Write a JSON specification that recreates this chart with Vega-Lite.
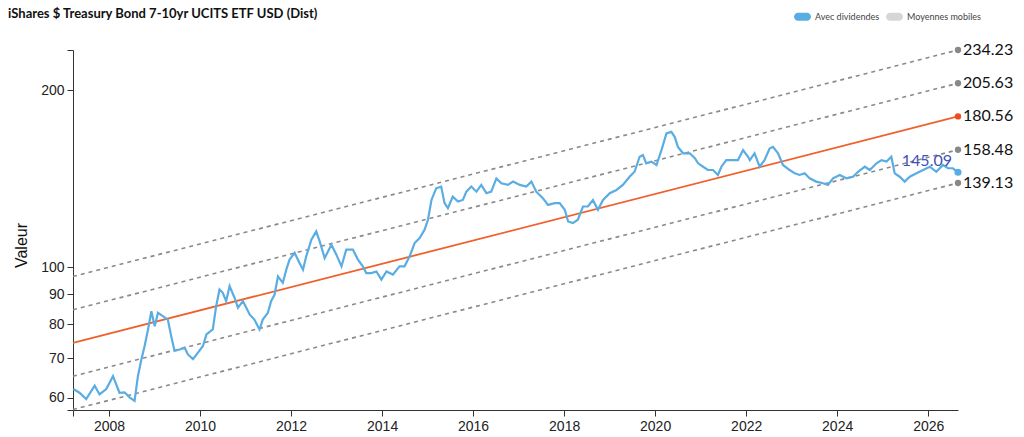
{
  "$schema": "https://vega.github.io/schema/vega-lite/v6.json",
  "width": 885,
  "height": 360,
  "autosize": "none",
  "padding": {"left": 73, "top": 50, "right": 66, "bottom": 27},
  "background": "white",
  "title": {
    "text": "iShares $ Treasury Bond 7-10yr UCITS ETF USD (Dist)",
    "anchor": "start",
    "frame": "group",
    "dx": -65,
    "offset": -13,
    "font": "Lato",
    "fontSize": 13,
    "fontWeight": "bold",
    "color": "#111"
  },
  "config": {
    "view": {"stroke": null},
    "font": "Liberation Sans",
    "axis": {"grid": false, "domainColor": "#333", "tickColor": "#333", "labelColor": "#222", "labelFontSize": 14, "tickSize": 6}
  },
  "datasets": {
    "series": [
      {"date": "2007-03-21", "value": 62.1},
      {"date": "2007-05-09", "value": 61.2},
      {"date": "2007-07-02", "value": 59.7},
      {"date": "2007-09-08", "value": 62.9},
      {"date": "2007-10-17", "value": 60.8},
      {"date": "2007-12-10", "value": 62.1},
      {"date": "2008-02-02", "value": 65.3},
      {"date": "2008-03-25", "value": 61.2},
      {"date": "2008-05-05", "value": 61.3},
      {"date": "2008-06-14", "value": 60.1},
      {"date": "2008-07-24", "value": 59.3},
      {"date": "2008-08-20", "value": 65.3},
      {"date": "2008-09-17", "value": 69.8},
      {"date": "2008-10-13", "value": 73.5},
      {"date": "2008-11-09", "value": 78.4},
      {"date": "2008-12-06", "value": 84.2},
      {"date": "2009-01-02", "value": 79.4},
      {"date": "2009-01-28", "value": 83.7},
      {"date": "2009-03-08", "value": 82.6},
      {"date": "2009-04-17", "value": 81.5},
      {"date": "2009-05-14", "value": 76.4},
      {"date": "2009-06-10", "value": 72.1},
      {"date": "2009-07-20", "value": 72.5},
      {"date": "2009-08-30", "value": 73.0},
      {"date": "2009-09-25", "value": 71.1},
      {"date": "2009-11-05", "value": 69.8},
      {"date": "2009-12-15", "value": 71.6},
      {"date": "2010-01-24", "value": 73.5},
      {"date": "2010-02-21", "value": 76.9},
      {"date": "2010-04-13", "value": 78.4},
      {"date": "2010-05-10", "value": 85.9},
      {"date": "2010-06-06", "value": 91.7},
      {"date": "2010-07-02", "value": 90.5},
      {"date": "2010-07-29", "value": 87.6},
      {"date": "2010-08-26", "value": 92.9},
      {"date": "2010-10-05", "value": 88.7},
      {"date": "2010-11-01", "value": 85.4},
      {"date": "2010-12-11", "value": 87.6},
      {"date": "2011-02-04", "value": 83.1},
      {"date": "2011-03-13", "value": 81.5},
      {"date": "2011-04-23", "value": 78.4},
      {"date": "2011-05-19", "value": 81.5},
      {"date": "2011-06-29", "value": 83.7},
      {"date": "2011-07-25", "value": 87.6},
      {"date": "2011-08-22", "value": 89.9},
      {"date": "2011-09-18", "value": 96.5},
      {"date": "2011-10-27", "value": 94.1},
      {"date": "2011-11-24", "value": 99.1},
      {"date": "2011-12-20", "value": 103.1},
      {"date": "2012-01-30", "value": 105.8},
      {"date": "2012-03-09", "value": 101.7},
      {"date": "2012-04-06", "value": 99.1},
      {"date": "2012-05-02", "value": 104.4},
      {"date": "2012-06-12", "value": 111.4},
      {"date": "2012-07-21", "value": 115.1},
      {"date": "2012-08-18", "value": 110.7},
      {"date": "2012-09-27", "value": 103.7},
      {"date": "2012-11-20", "value": 109.3},
      {"date": "2012-12-30", "value": 105.1},
      {"date": "2013-02-09", "value": 100.4},
      {"date": "2013-03-19", "value": 107.2},
      {"date": "2013-05-11", "value": 107.2},
      {"date": "2013-06-21", "value": 103.1},
      {"date": "2013-07-30", "value": 100.4},
      {"date": "2013-08-27", "value": 97.8},
      {"date": "2013-10-07", "value": 97.8},
      {"date": "2013-11-16", "value": 98.4},
      {"date": "2013-12-26", "value": 95.3},
      {"date": "2014-02-05", "value": 98.4},
      {"date": "2014-03-28", "value": 97.2},
      {"date": "2014-05-21", "value": 100.4},
      {"date": "2014-06-30", "value": 100.4},
      {"date": "2014-08-10", "value": 104.4},
      {"date": "2014-09-19", "value": 110.0},
      {"date": "2014-10-29", "value": 112.2},
      {"date": "2014-12-08", "value": 115.9},
      {"date": "2015-01-04", "value": 120.5},
      {"date": "2015-02-01", "value": 130.2},
      {"date": "2015-03-11", "value": 136.3},
      {"date": "2015-04-20", "value": 137.2},
      {"date": "2015-05-17", "value": 128.6},
      {"date": "2015-06-13", "value": 126.1},
      {"date": "2015-07-22", "value": 131.9},
      {"date": "2015-09-02", "value": 129.4},
      {"date": "2015-10-11", "value": 130.2},
      {"date": "2015-11-08", "value": 134.5},
      {"date": "2015-12-18", "value": 137.2},
      {"date": "2016-01-28", "value": 134.5},
      {"date": "2016-03-07", "value": 138.1},
      {"date": "2016-04-17", "value": 133.7},
      {"date": "2016-05-26", "value": 134.5},
      {"date": "2016-07-06", "value": 141.7},
      {"date": "2016-08-15", "value": 139.0},
      {"date": "2016-10-07", "value": 138.1},
      {"date": "2016-11-17", "value": 139.9},
      {"date": "2017-01-10", "value": 138.1},
      {"date": "2017-03-03", "value": 137.2},
      {"date": "2017-04-13", "value": 139.9},
      {"date": "2017-05-22", "value": 134.5},
      {"date": "2017-07-14", "value": 131.1},
      {"date": "2017-08-24", "value": 127.7},
      {"date": "2017-10-17", "value": 128.6},
      {"date": "2017-11-26", "value": 128.6},
      {"date": "2018-01-06", "value": 125.3},
      {"date": "2018-02-02", "value": 119.7},
      {"date": "2018-03-12", "value": 118.9},
      {"date": "2018-04-21", "value": 120.5},
      {"date": "2018-06-01", "value": 126.9},
      {"date": "2018-07-10", "value": 126.9},
      {"date": "2018-08-20", "value": 130.2},
      {"date": "2018-09-29", "value": 125.3},
      {"date": "2018-11-09", "value": 130.2},
      {"date": "2019-01-02", "value": 133.7},
      {"date": "2019-02-25", "value": 135.4},
      {"date": "2019-04-17", "value": 138.1},
      {"date": "2019-06-10", "value": 142.6},
      {"date": "2019-07-20", "value": 145.4},
      {"date": "2019-08-30", "value": 154.2},
      {"date": "2019-09-25", "value": 155.2},
      {"date": "2019-10-22", "value": 150.3},
      {"date": "2019-12-02", "value": 151.3},
      {"date": "2020-01-12", "value": 149.3},
      {"date": "2020-02-21", "value": 158.3},
      {"date": "2020-04-01", "value": 169.0},
      {"date": "2020-05-10", "value": 170.0},
      {"date": "2020-06-06", "value": 166.7},
      {"date": "2020-07-02", "value": 160.3},
      {"date": "2020-08-12", "value": 156.3},
      {"date": "2020-10-05", "value": 156.3},
      {"date": "2020-11-15", "value": 153.3},
      {"date": "2020-12-11", "value": 150.3},
      {"date": "2021-01-20", "value": 148.3},
      {"date": "2021-02-28", "value": 146.4},
      {"date": "2021-04-10", "value": 146.4},
      {"date": "2021-05-19", "value": 143.6},
      {"date": "2021-06-16", "value": 148.3},
      {"date": "2021-07-25", "value": 152.2},
      {"date": "2021-09-18", "value": 152.2},
      {"date": "2021-10-27", "value": 152.2},
      {"date": "2021-12-07", "value": 158.3},
      {"date": "2022-01-16", "value": 154.2},
      {"date": "2022-01-30", "value": 152.2},
      {"date": "2022-03-09", "value": 156.3},
      {"date": "2022-04-19", "value": 148.3},
      {"date": "2022-05-28", "value": 152.2},
      {"date": "2022-07-08", "value": 159.3},
      {"date": "2022-08-04", "value": 160.3},
      {"date": "2022-09-14", "value": 156.3},
      {"date": "2022-10-23", "value": 149.3},
      {"date": "2022-12-16", "value": 146.4},
      {"date": "2023-01-26", "value": 144.5},
      {"date": "2023-03-05", "value": 143.6},
      {"date": "2023-04-15", "value": 144.5},
      {"date": "2023-05-25", "value": 141.7},
      {"date": "2023-07-17", "value": 139.9},
      {"date": "2023-09-10", "value": 139.0},
      {"date": "2023-10-19", "value": 138.1},
      {"date": "2023-11-29", "value": 141.7},
      {"date": "2024-01-22", "value": 143.6},
      {"date": "2024-03-15", "value": 141.7},
      {"date": "2024-05-07", "value": 142.6},
      {"date": "2024-06-17", "value": 145.4},
      {"date": "2024-08-10", "value": 148.3},
      {"date": "2024-09-19", "value": 146.4},
      {"date": "2024-11-12", "value": 150.3},
      {"date": "2024-12-22", "value": 152.2},
      {"date": "2025-02-01", "value": 151.3},
      {"date": "2025-03-11", "value": 154.2},
      {"date": "2025-04-07", "value": 144.5},
      {"date": "2025-05-17", "value": 142.6},
      {"date": "2025-06-26", "value": 139.9},
      {"date": "2025-08-06", "value": 142.6},
      {"date": "2025-09-29", "value": 144.5},
      {"date": "2025-11-21", "value": 146.4},
      {"date": "2026-01-14", "value": 148.3},
      {"date": "2026-03-07", "value": 145.4},
      {"date": "2026-04-29", "value": 149.3},
      {"date": "2026-06-09", "value": 147.4},
      {"date": "2026-07-18", "value": 147.4},
      {"date": "2026-08-28", "value": 145.09}
    ],
    "bands": [
      {"band": "u2", "date": "2007-03-18", "value": 96.5},
      {"band": "u2", "date": "2026-08-28", "value": 234.23},
      {"band": "u1", "date": "2007-03-18", "value": 84.7},
      {"band": "u1", "date": "2026-08-28", "value": 205.63},
      {"band": "center", "date": "2007-03-18", "value": 74.4},
      {"band": "center", "date": "2026-08-28", "value": 180.56},
      {"band": "l1", "date": "2007-03-18", "value": 65.3},
      {"band": "l1", "date": "2026-08-28", "value": 158.48},
      {"band": "l2", "date": "2007-03-18", "value": 57.3},
      {"band": "l2", "date": "2026-08-28", "value": 139.13}
    ],
    "ends": [
      {"kind": "u2", "date": "2026-08-28", "value": 234.23, "label": "234.23"},
      {"kind": "u1", "date": "2026-08-28", "value": 205.63, "label": "205.63"},
      {"kind": "center", "date": "2026-08-28", "value": 180.56, "label": "180.56"},
      {"kind": "l1", "date": "2026-08-28", "value": 158.48, "label": "158.48"},
      {"kind": "l2", "date": "2026-08-28", "value": 139.13, "label": "139.13"},
      {"kind": "last", "date": "2026-08-28", "value": 145.09, "label": "145.09"}
    ]
  },
  "encoding": {
    "x": {
      "field": "date",
      "type": "temporal",
      "scale": {"domain": ["2007-03-18", "2026-08-28"]},
      "axis": {
        "title": null,
        "values": [
          {"year": 2007, "month": 3, "date": 18},
          {"year": 2008}, {"year": 2010}, {"year": 2012}, {"year": 2014}, {"year": 2016},
          {"year": 2018}, {"year": 2020}, {"year": 2022}, {"year": 2024}, {"year": 2026}
        ],
        "labelExpr": "timeFormat(datum.value, '%m-%d') == '01-01' ? timeFormat(datum.value, '%Y') : ''",
        "labelPadding": 3
      }
    },
    "y": {
      "field": "value",
      "type": "quantitative",
      "scale": {"type": "log", "domain": [57.2, 234.23], "nice": false},
      "axis": {
        "title": "Valeur",
        "titleFontSize": 16,
        "titleFontWeight": "normal",
        "titleColor": "#111",
        "titleAngle": -90,
        "titleX": -52,
        "titleY": 195,
        "titleAlign": "center",
        "titleBaseline": "middle",
        "values": [57.2, 60, 70, 80, 90, 100, 200, 234.23],
        "labelExpr": "datum.value < 59 || datum.value > 230 ? '' : datum.label",
        "format": "d",
        "labelPadding": 3
      }
    }
  },
  "layer": [
    {
      "data": {"name": "bands"},
      "transform": [{"filter": "datum.band !== 'center'"}],
      "mark": {"type": "line", "color": "#8a8a8a", "strokeDash": [4, 4], "strokeWidth": 1.6},
      "encoding": {"detail": {"field": "band"}}
    },
    {
      "data": {"name": "bands"},
      "transform": [{"filter": "datum.band === 'center'"}],
      "mark": {"type": "line", "color": "#f0602a", "strokeWidth": 1.8},
      "encoding": {}
    },
    {
      "data": {"name": "series"},
      "mark": {"type": "line", "strokeWidth": 2.2},
      "encoding": {
        "color": {
          "datum": "Avec dividendes",
          "type": "nominal",
          "scale": {"domain": ["Avec dividendes", "Moyennes mobiles"], "range": ["#5aade2", "#d6d6d6"]},
          "legend": {
            "title": null,
            "orient": "none",
            "legendX": 721,
            "legendY": -42,
            "direction": "horizontal",
            "symbolType": "M-0.53,-0.47H0.53A0.47,0.47 0 0 1 0.53,0.47H-0.53A0.47,0.47 0 0 1 -0.53,-0.47Z",
            "symbolSize": 289,
            "symbolStrokeWidth": 0,
            "labelFontSize": 9,
            "labelColor": "#444",
            "labelFont": "Lato",
            "columnPadding": 6,
            "labelOffset": 4,
            "encode": {"symbols": {"update": {"fill": {"scale": "color", "field": "value"}, "opacity": {"value": 1}}}}
          }
        }
      }
    },
    {
      "data": {"name": "ends"},
      "transform": [{"filter": "datum.kind !== 'last'"}],
      "mark": {"type": "point", "filled": true, "size": 40, "opacity": 1},
      "encoding": {
        "fill": {
          "field": "kind",
          "type": "nominal",
          "scale": {"domain": ["u2", "u1", "center", "l1", "l2"], "range": ["#888888", "#888888", "#f04a25", "#888888", "#888888"]},
          "legend": null
        }
      }
    },
    {
      "data": {"name": "ends"},
      "transform": [{"filter": "datum.kind === 'last'"}],
      "mark": {"type": "point", "filled": true, "size": 50, "opacity": 1, "color": "#5aade2"},
      "encoding": {}
    },
    {
      "data": {"name": "ends"},
      "transform": [{"filter": "datum.kind !== 'last'"}],
      "mark": {"type": "text", "align": "left", "baseline": "middle", "dx": 5, "font": "Lato", "fontSize": 16, "color": "#111"},
      "encoding": {"text": {"field": "label"}}
    },
    {
      "data": {"name": "ends"},
      "transform": [{"filter": "datum.kind === 'last'"}],
      "mark": {"type": "text", "align": "right", "baseline": "middle", "dx": -6, "dy": -11, "font": "Lato", "fontSize": 16, "color": "#4150b8"},
      "encoding": {"text": {"field": "label"}}
    }
  ]
}
